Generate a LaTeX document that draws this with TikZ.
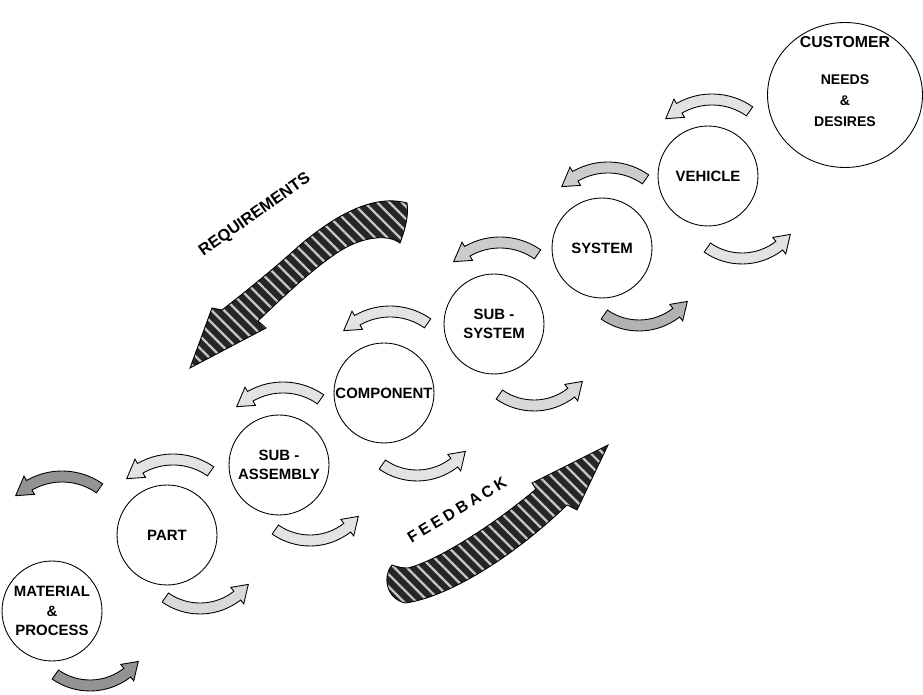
\documentclass[tikz,border=0pt]{standalone}
\usepackage{fontspec}
\setmainfont{Liberation Sans}
\usetikzlibrary{positioning,calc,patterns.meta,shapes.geometric}
\tikzset{stage/.style={draw,circle,line width=0.5pt,minimum size=2cm,inner sep=0pt,align=center,font=\bfseries\fontsize{8.5}{11}\selectfont}  }
\tikzset{bigarr/.style={draw,line width=0.5pt,preaction={fill=black!85},pattern={Lines[angle=135,distance=5pt,line width=1.3pt]},pattern color=gray!45}  }
\tikzset{toparrow/.pic={\draw[line width=0.5pt,fill=#1] (-55:71) arc[start angle=-55,end angle=-120,radius=71] -- (-120:76) -- (-135:65.5) -- (-120:55) -- (-120:60) arc[start angle=-120,end angle=-55,radius=60] -- cycle;}  }
\tikzset{botarrow/.pic={\draw[line width=0.5pt,fill=#1] (125:66) arc[start angle=125,end angle=52,radius=66] -- (52:71) -- (37:60.5) -- (52:50) -- (52:55) arc[start angle=52,end angle=125,radius=55] -- cycle;}  }

\begin{document}
\begin{tikzpicture}[x=0.02cm,y=-0.02cm]
		\useasboundingbox (0,0) rectangle (923,695);

			\node[stage] (material) at (52,611) {MATERIAL\\ \&\\ PROCESS};
			\node[stage] (part) at (167,535) {PART};
			\node[stage] (subassembly) at (279,465) {SUB -\\ASSEMBLY};
			\node[stage] (component) at (384,393) {COMPONENT};
			\node[stage] (subsystem) at (494,324) {SUB -\\SYSTEM};
			\node[stage] (system) at (602,248) {SYSTEM};
			\node[stage] (vehicle) at (708,176) {VEHICLE};
			\node[stage,ellipse,minimum width=3.1cm,minimum height=2.9cm] (customer) at (845,95) {};
			\node[align=center,font=\bfseries\fontsize{8}{12}\selectfont] (needs) at ($(customer.center)+(0,-13)$) {{\fontsize{9}{12}\selectfont CUSTOMER}\\[9pt]NEEDS\\ \&\\ DESIRES};

			% small arrows between the levels
			\foreach \x/\y/\c in {62/542/gray!85,173/525/gray!22,283/453/gray!22,390/377/gray!22,500/308/gray!40,608/233/gray!40,712/165/gray!22}
				\pic at (\x,\y) {toparrow=\c};
			\foreach \x/\y/\c in {90/625/gray!85,200/548/gray!30,310/480/gray!22,417/415/gray!22,534/345/gray!30,639/265/gray!60,742/198/gray!22}
				\pic at (\x,\y) {botarrow=\c};

			% requirements and feedback
			\path[bigarr] (407,203) .. controls (370,193) and (330,220) .. (300,245) .. controls (275,268) and (245,292) .. (222,310) -- (212,308) -- (190,368) -- (266,328) -- (258,321) .. controls (285,295) and (320,262) .. (345,248) .. controls (365,237) and (388,234) .. (400,243) .. controls (405,230) and (409,215) .. (407,203) -- cycle;
			\path[bigarr] (392,565) .. controls (383,575) and (385,598) .. (405,603) .. controls (445,598) and (510,560) .. (567,505) -- (577,510) -- (608,445) -- (532,483) -- (536,489) .. controls (500,520) and (440,560) .. (408,568) .. controls (400,568) and (395,566) .. (392,565) -- cycle;
				\node[rotate=35,font=\bfseries\fontsize{9.3}{11}\selectfont] (req) at (255,215) {REQUIREMENTS};
				\node[rotate=31,font=\bfseries\fontsize{9}{10}\selectfont] (fb) at (457,510) {F\kern2pt E\kern2pt E\kern2pt D\kern2pt B\kern2pt A\kern2pt C\kern2pt K};
	\end{tikzpicture}
\end{document}
